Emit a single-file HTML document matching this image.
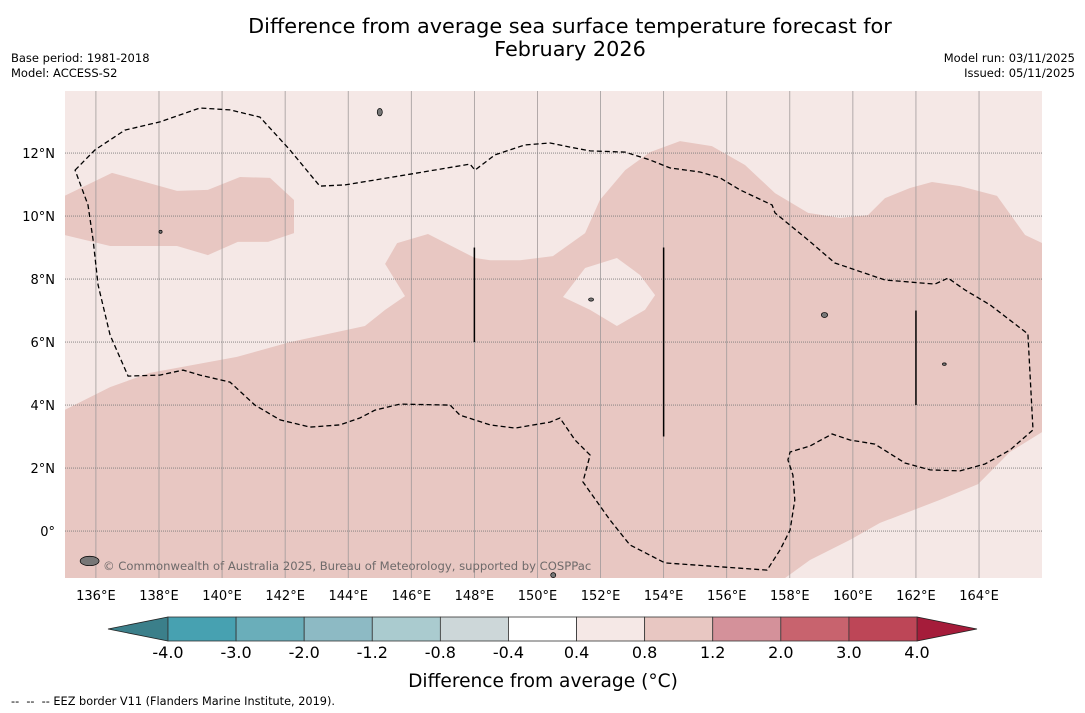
<!DOCTYPE html>
<html><head><meta charset="utf-8"><style>
body{margin:0;background:#fff;font-family:"DejaVu Sans","Liberation Sans",sans-serif;}
#wrap{position:relative;width:1085px;height:713px;overflow:hidden;}
.t{position:absolute;white-space:nowrap;color:#000;}
</style></head><body>
<div id="wrap">
<div class="t" style="left:0;width:1140px;text-align:center;top:15px;font-size:20.8px;line-height:23px;">Difference from average sea surface temperature forecast for<br>February 2026</div>
<div class="t" style="left:11px;top:51px;font-size:11.5px;line-height:14.5px;">Base period: 1981-2018<br>Model: ACCESS-S2</div>
<div class="t" style="right:10px;top:51px;font-size:11.5px;line-height:14.5px;text-align:right;">Model run: 03/11/2025<br>Issued: 05/11/2025</div>
<svg id="svg" width="1085" height="713" style="position:absolute;left:0;top:0"></svg>
<div class="t" style="left:11px;top:695px;font-size:11.3px;">-- &nbsp;-- &nbsp;-- EEZ border V11 (Flanders Marine Institute, 2019).</div>
</div>
<script>
const lonTicks=[136,138,140,142,144,146,148,150,152,154,156,158,160,162,164];
const latTicks=[0,2,4,6,8,10,12];
const cbLabels=["-4.0","-3.0","-2.0","-1.2","-0.8","-0.4","0.4","0.8","1.2","2.0","3.0","4.0"];
const cbColors=["#47a1b1","#6aaeba","#8dbac4","#aacbcf","#cdd7d9","#ffffff","#f5e8e6","#e8c7c2","#d4919a","#c8636e","#bd4657"];
const cbLow="#3b7f8a", cbHigh="#a51c3a";
const blobNW=[[135,10.64],[136.51,11.37],[137.56,11.08],[138.57,10.8],[139.55,10.83],[140.57,11.24],[141.52,11.21],[142.28,10.51],[142.28,9.46],[141.46,9.18],[140.5,9.18],[139.55,8.76],[138.57,9.05],[136.45,9.05],[135,9.4]];
const mainRegion=[[135,3.84],[136.45,4.57],[137.71,5.02],[140.47,5.53],[142.15,6.0],[144.53,6.51],[145.17,7.02],[145.8,7.46],[145.17,8.48],[145.55,9.14],[146.53,9.43],[148.02,8.67],[148.5,8.6],[149.45,8.6],[150.49,8.73],[151.51,9.46],[151.98,10.51],[152.78,11.46],[153.57,12.03],[154.52,12.38],[155.53,12.22],[156.58,11.62],[157.53,10.73],[158.58,10.1],[159.59,9.94],[160.48,10.03],[161.02,10.57],[161.81,10.89],[162.51,11.08],[163.4,10.95],[164.57,10.64],[165.46,9.4],[166,9.14],[166,3.14],[164.98,2.51],[163.97,1.49],[162.76,0.99],[160.86,0.26],[159.91,-0.28],[158.64,-0.92],[157.85,-1.49],[135,-1.49]];
const holeRegion=[[150.81,7.43],[151.51,8.35],[152.52,8.67],[153.25,8.13],[153.73,7.49],[153.41,7.02],[152.52,6.51],[151.67,7.02]];
const contour=[[135.34,11.46],[135.97,12.1],[136.92,12.73],[138.03,12.99],[139.3,13.43],[140.25,13.37],[141.2,13.14],[142.15,12.1],[143.1,10.95],[143.9,10.99],[145.96,11.33],[147.86,11.65],[148.02,11.46],[148.65,11.94],[149.6,12.26],[150.4,12.32],[151.03,12.19],[151.67,12.07],[152.78,12.03],[153.57,11.78],[154.2,11.53],[155.15,11.4],[155.79,11.21],[156.42,10.83],[157.44,10.35],[157.53,10.1],[158.58,9.24],[159.43,8.51],[161.02,7.97],[162.6,7.84],[163.02,8.03],[163.56,7.65],[164.35,7.18],[165.55,6.26],[165.71,3.21],[164.98,2.57],[164.19,2.13],[163.4,1.91],[162.45,1.94],[161.65,2.16],[160.7,2.76],[159.91,2.89],[159.34,3.08],[158.64,2.7],[158.01,2.51],[157.94,2.26],[158.1,1.78],[158.16,0.99],[158.01,0.03],[157.69,-0.6],[157.28,-1.24],[154.04,-1.01],[152.93,-0.44],[152.3,0.35],[151.44,1.56],[151.67,2.41],[151.19,2.89],[150.71,3.59],[150.4,3.46],[149.29,3.27],[148.5,3.37],[147.54,3.68],[147.23,4.0],[145.64,4.03],[144.85,3.84],[144.37,3.59],[143.74,3.37],[142.79,3.3],[141.84,3.53],[141.04,4.0],[140.35,4.64],[140.25,4.73],[139.3,4.95],[138.76,5.11],[138.03,4.95],[137.02,4.92],[136.45,6.22],[136.07,7.81],[135.91,9.24],[135.75,10.35]];
const eezLines=[[148,9,6],[154,9,3],[162,7,4]];
const islands=[[135.8,-0.95,0.3,0.15],[145.0,13.3,0.08,0.12],[138.05,9.5,0.05,0.05],[151.7,7.35,0.08,0.05],[159.1,6.86,0.1,0.08],[162.9,5.3,0.06,0.04],[150.5,-1.4,0.08,0.08]];
const NS="http://www.w3.org/2000/svg";
const svg=document.getElementById('svg');
const X0=65,X1=1042,Y0=91,Y1=578,LON0=135.02,LAT0=13.97,PXD=31.54,PYD=31.5;
function xs(lon){return X0+(lon-LON0)*PXD;}
function ys(lat){return Y0+(LAT0-lat)*PYD;}
function mk(tag,attrs){const e=document.createElementNS(NS,tag);for(const k in attrs)e.setAttribute(k,attrs[k]);svg.appendChild(e);return e;}
function pts(a){return a.map(p=>xs(p[0]).toFixed(1)+','+ys(p[1]).toFixed(1)).join(' ');}
const clip=document.createElementNS(NS,'clipPath');clip.setAttribute('id','mc');
const cr=document.createElementNS(NS,'rect');cr.setAttribute('x',X0);cr.setAttribute('y',Y0);cr.setAttribute('width',X1-X0);cr.setAttribute('height',Y1-Y0);clip.appendChild(cr);svg.appendChild(clip);
let e=mk('rect',{x:X0,y:Y0,width:X1-X0,height:Y1-Y0,fill:cbColors[6]});


e=mk('polygon',{points:pts(mainRegion),fill:cbColors[7],'clip-path':'url(#mc)'});


e=mk('polygon',{points:pts(holeRegion),fill:cbColors[6]});


e=mk('polygon',{points:pts(blobNW),fill:cbColors[7],'clip-path':'url(#mc)'});


lonTicks.forEach(l=>{
 const g=mk('line',{x1:xs(l),x2:xs(l),y1:Y0,y2:Y1,stroke:'#a09a9a','stroke-width':0.8});
 
 
 const t=mk('text',{x:xs(l),y:600,'font-size':13,'text-anchor':'middle','font-family':'DejaVu Sans, sans-serif'});t.textContent=l+'°E';
 
 
});
latTicks.forEach(l=>{
 const g=mk('line',{x1:X0,x2:X1,y1:ys(l),y2:ys(l),stroke:'#7a7a7a','stroke-width':0.8,'stroke-dasharray':'1,1'});
 
 
 const t=mk('text',{x:55,y:ys(l)+5,'font-size':13,'text-anchor':'end','font-family':'DejaVu Sans, sans-serif'});t.textContent=l===0?'0°':l+'°N';
 
 
});
e=mk('polygon',{points:pts(contour),fill:'none',stroke:'#000','stroke-width':1.3,'stroke-dasharray':'5,3'});


eezLines.forEach(v=>{
 const g=mk('line',{x1:xs(v[0]),x2:xs(v[0]),y1:ys(v[1]),y2:ys(v[2]),stroke:'#000','stroke-width':1.5});
 
 
});
islands.forEach(v=>{
 const g=mk('ellipse',{cx:xs(v[0]),cy:ys(v[1]),rx:v[2]*PXD,ry:v[3]*PYD,fill:'#777',stroke:'#000','stroke-width':0.7,'clip-path':'url(#mc)'});
 
 
});
e=mk('text',{x:103,y:570,'font-size':11.6,fill:'#6e6a6a','font-family':'DejaVu Sans, sans-serif'});e.textContent='© Commonwealth of Australia 2025, Bureau of Meteorology, supported by COSPPac';


const CB0=168,CB1=917,CBY=617,CBH=24,bw=(CB1-CB0)/cbColors.length;
e=mk('polygon',{points:`${CB0},${CBY} ${CB0},${CBY+CBH} 108,${CBY+CBH/2}`,fill:cbLow,stroke:'#222','stroke-width':0.8});


e=mk('polygon',{points:`${CB1},${CBY} ${CB1},${CBY+CBH} 977,${CBY+CBH/2}`,fill:cbHigh,stroke:'#222','stroke-width':0.8});


cbColors.forEach((c,i)=>{
 const r=mk('rect',{x:CB0+i*bw,y:CBY,width:bw,height:CBH,fill:c,stroke:'#333','stroke-width':0.8});
 
 
});
cbLabels.forEach((s,i)=>{
 const t=mk('text',{x:CB0+i*bw,y:658,'font-size':16,'text-anchor':'middle','font-family':'DejaVu Sans, sans-serif'});t.textContent=s;
 
 
});
e=mk('text',{x:543,y:687,'font-size':18.6,'text-anchor':'middle','font-family':'DejaVu Sans, sans-serif'});e.textContent='Difference from average (°C)';


</script>
</body></html>
